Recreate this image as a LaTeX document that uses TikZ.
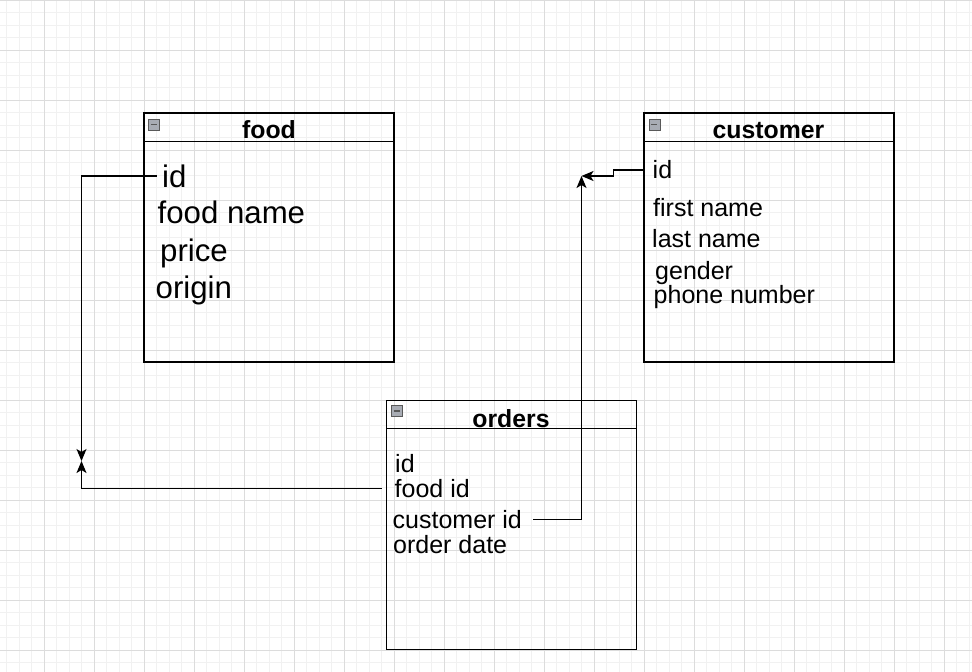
\documentclass[tikz,border=0pt]{standalone}
\usepackage{fontspec}
\setmainfont{Liberation Sans}
\usetikzlibrary{arrows.meta}

\definecolor{minorgridc}{HTML}{F1F1F1}
\definecolor{majorgridc}{HTML}{DCDCDC}
\definecolor{iconc}{HTML}{A8ACB4}

\tikzset{
   tablebox/.style={draw,shape=rectangle,line width=1.1pt,minimum width=250pt,minimum height=249pt,inner sep=0pt},
   tabtitle/.style={anchor=base,inner sep=0pt,yshift=-1.5pt,font=\fontsize{24.8}{29}\selectfont\bfseries},
   bigfield/.style={anchor=base west,inner sep=0pt,yshift=-1.5pt,font=\fontsize{31.2}{36}\selectfont},
   field/.style={anchor=base west,inner sep=0pt,yshift=-1.5pt,font=\fontsize{25}{29}\selectfont},
   minusicon/.style={draw=gray!70!black,fill=iconc,line width=0.6pt,minimum width=11pt,minimum height=11pt,inner sep=0pt,
     path picture={\draw[line width=1.6pt] ([xshift=2.5pt]path picture bounding box.west) -- ([xshift=-2.5pt]path picture bounding box.east);}},
   linkline/.style={draw,line width=1.3pt,-{Stealth[length=12pt,width=10pt,inset=3pt]}}
}

\begin{document}
\begin{tikzpicture}[x=1pt,y=-1pt]
   \useasboundingbox (0,0) rectangle (972,672);
   \begin{scope}[xshift=-6pt]
     \draw[minorgridc,line width=0.9pt] (0,672) grid[step=12.5pt] (990,0);
     \draw[majorgridc,line width=1pt] (0,672) grid[step=50pt] (990,0);
   \end{scope}

   % food
   \path (269,237.5) node[tablebox] (food) {};
   \draw[line width=1.1pt] ([yshift=-29pt]food.north west) -- ([yshift=-29pt]food.north east);
   \path ([xshift=10.5pt,yshift=-12pt]food.north west) node[minusicon] (foodIcon) {};
   \path (269,136.7) node[tabtitle] (foodTitle) {food};
   \path (162,185.7) node[bigfield] (foodId) {id};
   \path (157.5,222.3) node[bigfield] (foodName) {food name};
   \path (160,260) node[bigfield] (foodPrice) {price};
   \path (155.5,296.7) node[bigfield] (foodOrigin) {origin};

   % customer
   \path (769,237.5) node[tablebox] (customer) {};
   \draw[line width=1.1pt] ([yshift=-29pt]customer.north west) -- ([yshift=-29pt]customer.north east);
   \path ([xshift=11pt,yshift=-12pt]customer.north west) node[minusicon] (custIcon) {};
   \path (768.5,136.7) node[tabtitle] (custTitle) {customer};
   \path (652.5,177.3) node[field] (custId) {id};
   \path (653,215) node[field] (custFirst) {first name};
   \path (652,245.7) node[field] (custLast) {last name};
   \path (655,277.7) node[field] (custGender) {gender};
   \path (653.5,301.7) node[field] (custPhone) {phone number};

   % orders
   \path (511.7,525.3) node[tablebox] (orders) {};
   \draw[line width=1.1pt] ([yshift=-28.5pt]orders.north west) -- ([yshift=-28.5pt]orders.north east);
   \path ([xshift=10.5pt,yshift=-10.5pt]orders.north west) node[minusicon] (ordIcon) {};
   \path (511,425.7) node[tabtitle] (ordTitle) {orders};
   \path (395,470.7) node[field] (ordId) {id};
   \path (394.5,495.7) node[field] (ordFoodId) {food id};
   \path (392.5,526.7) node[field] (ordCustId) {customer id};
   \path (393,551.7) node[field] (ordDate) {order date};

   % links
   \coordinate (foodMeet) at (81.5,461);
   \coordinate (custMeet) at (581.5,176);
   \draw[linkline] ([xshift=-5.5pt]foodId.west) -| (foodMeet);
   \draw[linkline] ([xshift=-13pt]ordFoodId.west) -| (foodMeet);
   \draw[linkline] (custId.west -| customer.west) -- ++(-30,0) |- (custMeet);
   \draw[linkline] ([xshift=11pt]ordCustId.east) -| (custMeet);
\end{tikzpicture}
\end{document}
